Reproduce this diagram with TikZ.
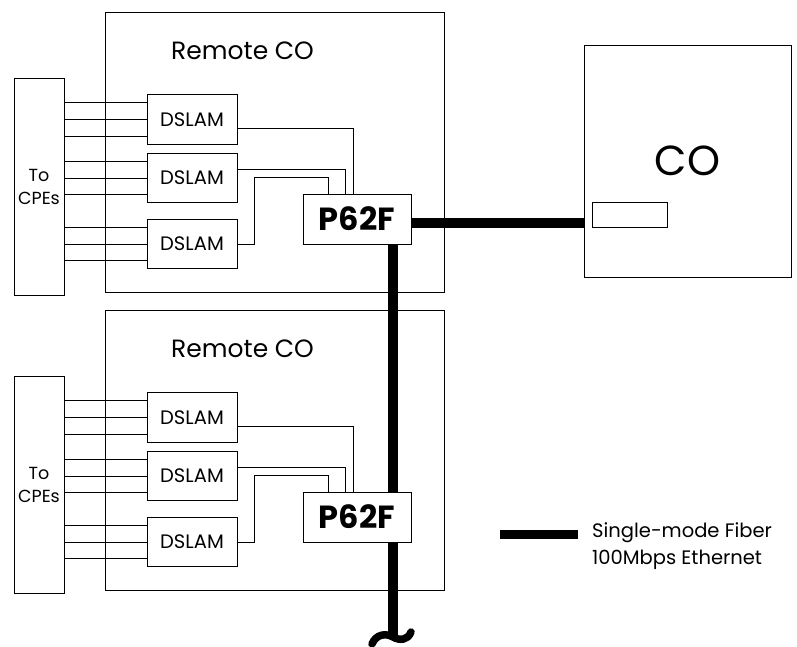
\documentclass[tikz,border=0pt]{standalone}
\usepackage{fontspec}
\setmainfont{Poppins}
\usetikzlibrary{calc}
\pgfdeclarelayer{bg}
\pgfsetlayers{bg,main}
\begin{document}
\begin{tikzpicture}[x=1pt,y=-1pt,
  box/.style={draw, line width=0.8pt, fill=white, inner sep=0pt},
  frame/.style={draw, line width=0.8pt, inner sep=0pt},
  wire/.style={line width=0.8pt},
  fiber/.style={line width=10pt},
  dslam/.style={box, minimum width=90pt, minimum height=49.5pt, font=\fontsize{19.5}{21}\selectfont},
  pbox/.style={box, minimum width=108pt, minimum height=50pt, font=\fontsize{32}{34}\selectfont\bfseries},
  lbl/.style={inner sep=0pt}]
\useasboundingbox (0,0) rectangle (797,646);

% central office
\node[box, minimum width=207pt, minimum height=232pt, font=\fontsize{42}{44}\selectfont] (co) at (687.5,161) {CO};
\node[box, minimum width=75pt, minimum height=25pt] (port) at (629.5,214.5) {};

\foreach \o/\s in {0/a,298/b}{
  \begin{scope}[yshift=-\o pt]
    \node[box, minimum width=50pt, minimum height=217pt, align=center,
          font=\fontsize{17.5}{23}\selectfont] (cpe\s) at (39,186.5) {To\\CPEs};
    \node[lbl, anchor=base west, font=\fontsize{25}{27}\selectfont] (rcl\s) at (171,59) {Remote CO};
    \node[dslam] (d1\s) at (192,119.5) {DSLAM};
    \node[dslam] (d2\s) at (192,178) {DSLAM};
    \node[dslam] (d3\s) at (192,244) {DSLAM};
    \node[pbox] (p\s) at (357,219) {P62F};
    \foreach \d in {d1,d2,d3}{
      \foreach \f in {0.1667,0.5,0.8333}{
        \coordinate (t) at ($(\d\s.north west)!\f!(\d\s.south west)$);
        \draw[wire] (t) -- (t -| cpe\s.east);
      }
    }
    \draw[wire] ([yshift=-8.5pt]d1\s.east) -| ([xshift=-4pt]p\s.north);
    \draw[wire] ([yshift=9pt]d2\s.east) -| ([xshift=-12pt]p\s.north);
    \draw[wire] (d3\s.east) -- ++(17,0) |- ($(p\s.north)+(-29,-16)$) -- ([xshift=-29pt]p\s.north);
    \begin{pgfonlayer}{bg}
      \node[frame, minimum width=339pt, minimum height=280pt] (rco\s) at (274.5,152) {};
    \end{pgfonlayer}
  \end{scope}
}

% fibers
\begin{pgfonlayer}{bg}
  \coordinate (fh) at ([yshift=-3.5pt]pa.east);
  \draw[fiber] (fh) -- (fh -| co.west);
  \coordinate (fv) at ([xshift=36pt]pa.south);
  \coordinate (brk) at (393,637);
  \draw[fiber] (fv) -- (brk);
  \draw[line width=7.5pt, line cap=round] (372,644) .. controls (376,634) and (386,633) .. (393,637) .. controls (400,641) and (408,640) .. (411,632);
\end{pgfonlayer}

% legend
\coordinate (l1) at (500,534);
\coordinate (l2) at (578,534);
\draw[line width=9pt] (l1) -- (l2);
\node[lbl, anchor=base west, font=\fontsize{19.5}{21}\selectfont] (lg1) at (592,537) {Single-mode Fiber};
\node[lbl, anchor=base west, font=\fontsize{19.5}{21}\selectfont] (lg2) at (592,564) {100Mbps Ethernet};
\end{tikzpicture}
\end{document}
